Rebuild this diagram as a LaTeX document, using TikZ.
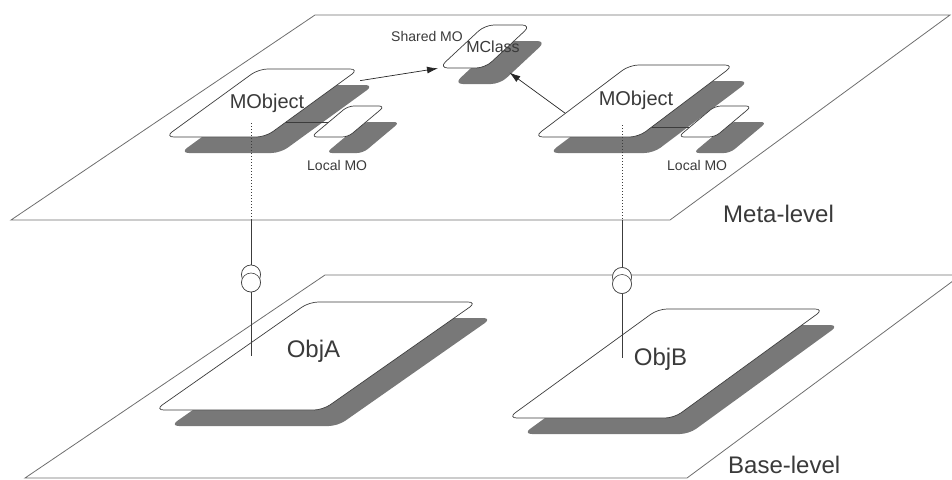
\documentclass[tikz,border=0pt]{standalone}
\usepackage{fontspec}
\setmainfont{Liberation Sans}
\usepackage{tikz}
\usetikzlibrary{
    shapes.geometric,
    arrows.meta,
    shadows,
    calc,
    positioning
}
\definecolor{planeLine}{HTML}{6E6E6E}
\definecolor{slabLine}{HTML}{3C3C3C}
\definecolor{slabShade}{HTML}{787878}
\definecolor{darkText}{HTML}{3A3A3A}
\tikzset{
    % Level planes drawn in perspective
    plane/.style={
        draw=planeLine,
        line width=0.8pt,
    },
    % Slanted slab with its shadow, #1 = slant angle
    slab/.style={
        trapezium,
        trapezium left angle=#1,
        trapezium right angle=\the\numexpr180-#1\relax,
        trapezium stretches body=true,
        inner sep=0pt,
        text depth=0pt,
        draw=slabLine,
        line width=0.7pt,
        fill=white,
        rounded corners=9pt,
        drop shadow={
            shadow xshift=15pt,
            shadow yshift=-16pt,
            opacity=1,
            fill=slabShade
        },
    },
    small slab/.style={
        slab=#1,
        rounded corners=6pt,
    },
    % Texts
    level label/.style={
        font=\fontsize{24}{28}\selectfont,
        text=darkText,
        inner sep=0pt,
        anchor=base west,
    },
    obj label/.style={
        font=\fontsize{24}{28}\selectfont,
        text=darkText,
        inner sep=0pt,
        anchor=base,
    },
    meta label/.style={
        font=\fontsize{20}{24}\selectfont,
        text=darkText,
        inner sep=0pt,
        anchor=base,
    },
    class label/.style={
        meta label,
        font=\fontsize{16}{19}\selectfont,
    },
    small label/.style={
        font=\fontsize{14}{16}\selectfont,
        text=darkText,
        inner sep=0pt,
    },
    % Connectors
    link/.style={
        draw=slabLine,
        line width=0.6pt,
    },
    hidden link/.style={
        link,
        dash pattern=on 1.2pt off 1.8pt,
    },
    ref arrow/.style={
        -{Latex[length=11pt, width=7pt]},
        draw=black!85,
        line width=0.7pt,
    },
    link ring/.style={
        circle,
        draw=slabLine,
        line width=0.6pt,
        fill=white,
        minimum size=19pt,
        inner sep=0pt,
    },
}

\begin{document}
\begin{tikzpicture}[x=1pt, y=-1pt]
    \useasboundingbox (0,0) rectangle (952,479);
    \clip (0,0) rectangle (952,479);

    % Levels
    \coordinate (metaTL) at (315,15);
    \coordinate (metaTR) at (950,15);
    \coordinate (metaBR) at (670,220);
    \coordinate (metaBL) at (11,220);
    \coordinate (baseTL) at (325,275);
    \coordinate (baseTR) at (961,275);
    \coordinate (baseBR) at (687,478);
    \coordinate (baseBL) at (25,478);
    \draw[plane] (metaTL) -- (metaTR) -- (metaBR) -- (metaBL) -- cycle;
    \draw[plane] (baseTL) -- (baseTR) -- (baseBR) -- (baseBL) -- cycle;
    \node[level label] (metaLbl) at (723,222) {Meta-level};
    \node[level label] (baseLbl) at (728,473) {Base-level};

    % Meta-level objects
    \node[slab=43, minimum width=88pt, text height=43pt] (mclass) at (485,46.5) {};
    \node[class label] (mclassTxt) at ($(mclass.center)+(8,6)$) {MClass};
    \node[slab=36, minimum width=194pt, text height=68pt] (mobjL) at (262,103) {};
    \node[meta label] (mobjLTxt) at ($(mobjL.center)+(5,5)$) {MObject};
    \node[slab=37, minimum width=200pt, text height=72pt] (mobjR) at (634,101) {};
    \node[meta label] (mobjRTxt) at ($(mobjR.center)+(2,4)$) {MObject};
    \coordinate (localLpos) at (348,121.5);
    \coordinate (localRpos) at (715,121.5);
    \draw[link] (mobjL.-40) -- (mobjL.-40 -| localLpos);
    \draw[link] (mobjR.-55) -- (mobjR.-55 -| localRpos);
    \node[small slab=40, minimum width=65pt, text height=31pt] (localL) at (localLpos) {};
    \node[small slab=40, minimum width=65pt, text height=31pt] (localR) at (localRpos) {};
    \node[small label, anchor=base east] (sharedLbl) at (463,41) {Shared MO};
    \node[small label, anchor=base west] (localLLbl) at (307,170) {Local MO};
    \node[small label, anchor=base west] (localRLbl) at (667,170) {Local MO};

    % Base-level objects
    \node[slab=35, minimum width=322pt, text height=108pt] (objA) at (316,356) {};
    \node[obj label] (objATxt) at ($(objA.center)+(-2.5,1)$) {ObjA};
    \node[slab=36, minimum width=316pt, text height=109pt] (objB) at (666,363.5) {};
    \node[obj label] (objBTxt) at ($(objB.center)+(-5.5,1.5)$) {ObjB};

    % Meta links
    \node[link ring] (ringAtop) at (251,274.5) {};
    \node[link ring] (ringAbot) at (251,282.5) {};
    \node[link ring] (ringBtop) at (622,277) {};
    \node[link ring] (ringBbot) at (622,284) {};
    \draw[hidden link] ($(ringAtop |- mobjL.center)+(0,20)$) -- (ringAtop |- metaBL);
    \draw[link] (ringAtop |- metaBL) -- (ringAtop.north);
    \draw[link] (ringAbot.south) -- (ringAbot |- objA.center);
    \draw[hidden link] ($(ringBtop |- mobjR.center)+(0,24)$) -- (ringBtop |- metaBL);
    \draw[link] (ringBtop |- metaBL) -- (ringBtop.north);
    \draw[link] (ringBbot.south) -- ([yshift=6pt]ringBbot |- objB.center);
    \node[link ring] at (ringAtop) {};
    \node[link ring] at (ringAbot) {};
    \node[link ring] at (ringBtop) {};
    \node[link ring] at (ringBbot) {};

    % References to the shared MO
    \draw[ref arrow] ([yshift=-12pt]mobjL.top right corner) -- (mclass.bottom left corner);
    \draw[ref arrow, shorten >=20pt] (mobjR.190) -- (mclass.-60);
\end{tikzpicture}
\end{document}
